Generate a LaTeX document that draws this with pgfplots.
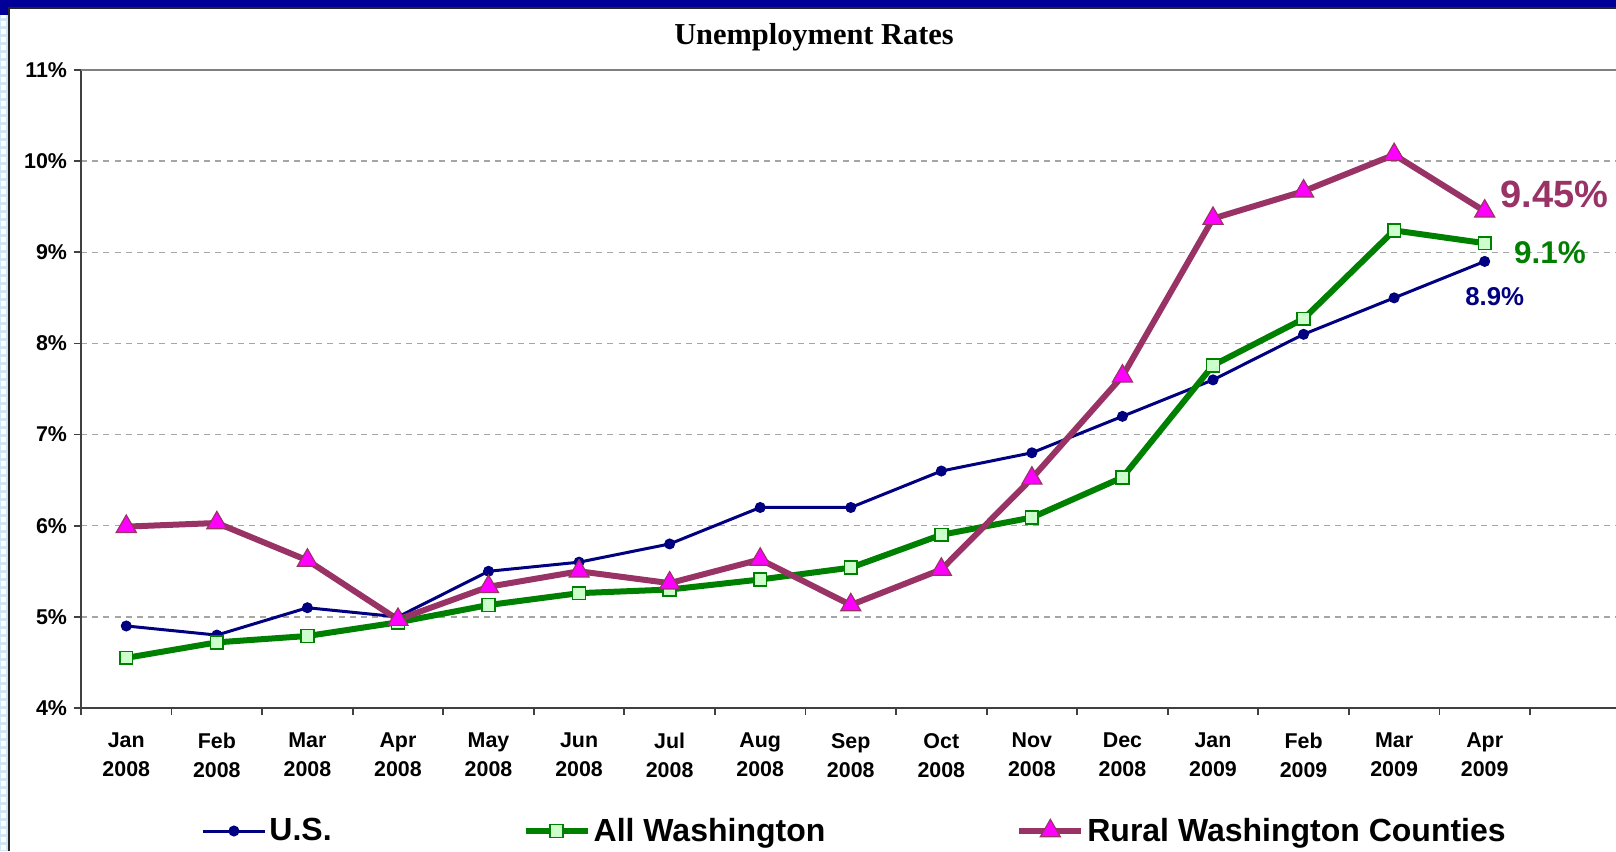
\documentclass[border=0pt]{standalone}
\usepackage{fontspec}
\setmainfont{Liberation Sans}
\newfontfamily\titlefont{Liberation Serif}
\usepackage{pgfplots}
\pgfplotsset{compat=1.18}

\definecolor{usnavy}{HTML}{000080}
\definecolor{wagreen}{HTML}{008000}
\definecolor{walight}{HTML}{CCFFCC}
\definecolor{ruralplum}{HTML}{993366}
\definecolor{ruralpink}{HTML}{FF00FF}
\definecolor{framenavy}{HTML}{000099}
\definecolor{stripblue}{HTML}{CFE6F9}
\definecolor{axisgray}{HTML}{404040}
\definecolor{gridgray}{HTML}{A6A6A6}

% unemployment rate, percent, Jan 2008 .. Apr 2009
\pgfplotstableread{
x  us   wa    rural
0  4.9  4.55  5.99
1  4.8  4.72  6.03
2  5.1  4.79  5.62
3  5.0  4.94  4.97
4  5.5  5.13  5.33
5  5.6  5.26  5.50
6  5.8  5.30  5.37
7  6.2  5.41  5.63
8  6.2  5.54  5.13
9  6.6  5.90  5.52
10 6.8  6.09  6.52
11 7.2  6.53  7.64
12 7.6  7.76  9.37
13 8.1  8.27  9.67
14 8.5  9.24  10.07
15 8.9  9.10  9.45
}\ratestable

\begin{document}
\begin{tikzpicture}[x=1pt,y=1pt]
  % page frame
  \fill[white] (0,0) rectangle (808,425.5);
  \fill[stripblue] (0,0) rectangle (3.8,418);
  \foreach \k in {0,...,104} {
    \fill[white] (0.7,{\k*4+0.7}) rectangle (3.1,{\k*4+3.1});
  }
  \fill[framenavy] (0,421.8) rectangle (808,425.5);
  \fill[framenavy] (0,418) rectangle (4.2,425.5);
  \draw[black!85, line width=0.9pt] (4.5,0) -- (4.5,421.3) -- (808,421.3);

  \begin{axis}[
    at={(40.5pt,71.5pt)}, anchor=south west,
    scale only axis, width=767.5pt, height=319pt,
    xmin=-0.5, xmax=16.45, ymin=4, ymax=11,
    axis x line*=bottom, axis y line*=left,
    axis line style={draw=axisgray, line width=0.9pt},
    clip=false,
    tick align=outside,
    major tick length=3.5pt,
    ytick={4,...,11},
    yticklabel={\pgfmathprintnumber{\tick}\%},
    /pgf/number format/assume math mode=true,
    yticklabel style={font=\bfseries\fontsize{10.7}{12}\selectfont, xshift=0pt},
    ytick style={draw=axisgray, line width=0.9pt},
    ymajorgrids,
    grid style={draw=gridgray, line width=0.7pt, dash pattern=on 3pt off 2.6pt},
    xtick={0,...,15},
    xticklabels={Jan\\2008, Feb\\2008, Mar\\2008, Apr\\2008, May\\2008, Jun\\2008,
      Jul\\2008, Aug\\2008, Sep\\2008, Oct\\2008, Nov\\2008, Dec\\2008,
      Jan\\2009, Feb\\2009, Mar\\2009, Apr\\2009},
    xticklabel style={font=\bfseries\fontsize{10.7}{14.5}\selectfont, align=center,
      execute at begin node={\strut}, yshift=-5.6pt},
    xtick style={draw=none},
    extra x ticks={-0.5,0.5,...,15.5},
    extra x tick labels={},
    extra x tick style={xtick style={draw=axisgray, line width=0.9pt}, grid=none},
    legend style={at={(0.0782,-0.1928)}, anchor=west, draw=none, fill=none,
      inner sep=0pt, legend columns=3,
      font=\bfseries\fontsize{16}{18}\selectfont,
      /tikz/every even column/.append style={column sep=94pt},
      nodes={inner sep=1.5pt}},
    legend cell align=left,
    legend image code/.code={
      \draw[mark repeat=2, mark phase=2] plot coordinates {(0pt,0pt) (15.5pt,0pt) (31pt,0pt)};
    },
  ]
    \draw[draw=black!50, line width=0.9pt] (axis cs:-0.5,11) -- (axis cs:16.45,11);

    \addplot[usnavy, line width=1.5pt, mark=*, mark size=2.5pt,
      mark options={fill=usnavy, draw=usnavy, line width=0.5pt}]
      table[x=x, y=us] {\ratestable};
    \addlegendentry{U.S.}

    \addplot[wagreen, line width=3pt, mark=square*, mark size=3.2pt,
      mark options={fill=walight, draw=wagreen, line width=0.8pt}]
      table[x=x, y=wa] {\ratestable};
    \addlegendentry{All Washington}

    \addplot[ruralplum, line width=3pt, mark=triangle*, mark size=5.8pt,
      mark options={fill=ruralpink, draw=ruralplum, line width=0.6pt}]
      table[x=x, y=rural] {\ratestable};
    \addlegendentry{Rural Washington Counties}

    \node[font=\bfseries\fontsize{19}{22}\selectfont, text=ruralplum]
      at (axis cs:15.77,9.63) {9.45\%};
    \node[font=\bfseries\fontsize{15.7}{18}\selectfont, text=wagreen]
      at (axis cs:15.72,9.0) {9.1\%};
    \node[font=\bfseries\fontsize{12.9}{15}\selectfont, text=usnavy]
      at (axis cs:15.11,8.51) {8.9\%};
  \end{axis}

  \node[font=\titlefont\bfseries\fontsize{15.2}{18}\selectfont] at (407,407) {Unemployment Rates};

  \pgfresetboundingbox
  \useasboundingbox (0,0) rectangle (808,425.5);
\end{tikzpicture}
\end{document}
